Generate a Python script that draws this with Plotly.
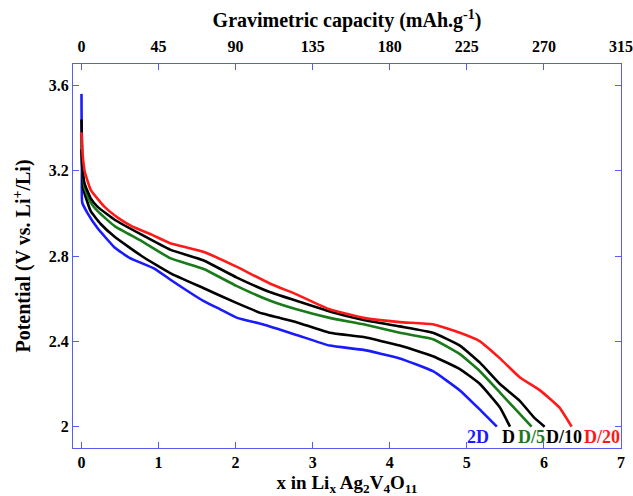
import plotly.graph_objects as go

# x in LixAg2V4O11 and potential (V) for each discharge rate
x_2D = [0, 0.005, 0.01, 0.08, 0.21, 0.43, 0.63, 0.95, 1.15, 1.58, 1.80, 2.02, 2.35, 2.79, 3.22, 3.66, 4.13, 4.56, 4.91, 5.17, 5.39]
y_2D = [3.56, 3.2, 3.05, 3.0, 2.93, 2.84, 2.79, 2.74, 2.69, 2.59, 2.55, 2.51, 2.48, 2.43, 2.38, 2.36, 2.32, 2.26, 2.17, 2.08, 2.0]

x_D = [0, 0.01, 0.02, 0.12, 0.25, 0.43, 0.78, 1.15, 1.58, 2.01, 2.35, 2.79, 3.22, 3.66, 4.13, 4.56, 4.91, 5.17, 5.43, 5.56]
y_D = [3.44, 3.25, 3.12, 3.01, 2.95, 2.89, 2.80, 2.72, 2.65, 2.58, 2.53, 2.49, 2.44, 2.42, 2.38, 2.33, 2.27, 2.20, 2.09, 2.0]

x_D5 = [0, 0.01, 0.04, 0.12, 0.21, 0.43, 0.78, 1.15, 1.58, 2.01, 2.45, 2.79, 3.22, 3.66, 4.13, 4.56, 4.91, 5.17, 5.43, 5.66, 5.84]
y_D5 = [3.34, 3.22, 3.12, 3.05, 3.01, 2.94, 2.87, 2.79, 2.74, 2.66, 2.59, 2.55, 2.51, 2.48, 2.44, 2.41, 2.34, 2.26, 2.16, 2.07, 2.0]

x_D10 = [0, 0.01, 0.04, 0.12, 0.21, 0.43, 0.78, 1.15, 1.58, 2.01, 2.45, 2.79, 3.22, 3.66, 4.13, 4.56, 4.91, 5.17, 5.43, 5.69, 5.88, 6.01]
y_D10 = [3.30, 3.22, 3.14, 3.07, 3.03, 2.97, 2.90, 2.83, 2.78, 2.70, 2.63, 2.59, 2.54, 2.50, 2.47, 2.44, 2.38, 2.30, 2.20, 2.12, 2.04, 2.0]

x_D20 = [0, 0.01, 0.04, 0.12, 0.3, 0.47, 0.65, 0.91, 1.15, 1.58, 2.01, 2.45, 2.79, 3.22, 3.66, 4.13, 4.56, 4.91, 5.17, 5.43, 5.69, 5.95, 6.20, 6.36]
y_D20 = [3.38, 3.30, 3.20, 3.11, 3.03, 2.98, 2.94, 2.90, 2.86, 2.82, 2.75, 2.67, 2.62, 2.55, 2.51, 2.49, 2.48, 2.44, 2.40, 2.32, 2.23, 2.17, 2.09, 2.0]

series = [
    ("2D", x_2D, y_2D, "#1a1aff"),
    ("D", x_D, y_D, "#000000"),
    ("D/5", x_D5, y_D5, "#1a7a1a"),
    ("D/10", x_D10, y_D10, "#000000"),
    ("D/20", x_D20, y_D20, "#ff1a1a"),
]
label_x = [5.14, 5.54, 5.84, 6.26, 6.76]

x_ticks = [0, 1, 2, 3, 4, 5, 6, 7]
cap_ticks = [0, 45, 90, 135, 180, 225, 270, 315]
y_ticks = [2, 2.4, 2.8, 3.2, 3.6]
y_ticktext = ["2", "2.4", "2.8", "3.2", "3.6"]

FRAME = "#5a5af5"
FONT = "Liberation Serif"

fig = go.Figure()
for name, xs, ys, col in series:
    fig.add_trace(go.Scatter(x=xs, y=ys, mode="lines", name=name,
                             line=dict(color=col, width=2.6, shape="spline", smoothing=0.4)))

# invisible trace for the top (capacity) axis
fig.add_trace(go.Scatter(x=[0, 315], y=[2, 2], xaxis="x2", mode="markers",
                         marker=dict(opacity=0), hoverinfo="skip", showlegend=False))

for (name, xs, ys, col), lx in zip(series, label_x):
    fig.add_annotation(x=lx, y=1.95, text="<b>%s</b>" % name, showarrow=False,
                       font=dict(family=FONT, size=18, color=col))

fig.update_layout(
    width=633, height=496,
    margin=dict(l=73, r=12, t=64, b=48, autoexpand=False),
    plot_bgcolor="white", paper_bgcolor="white",
    showlegend=False,
    font=dict(family=FONT, color="black"),
    xaxis=dict(range=[-0.11, 7.0005], tickvals=x_ticks,
               ticktext=["<b>%d</b>" % v for v in x_ticks],
               tickfont=dict(family=FONT, size=16, color="black"),
               ticks="inside", ticklen=6, tickcolor=FRAME, tickwidth=1,
               ticklabeloverflow="allow", automargin=False,
               showline=True, linecolor=FRAME, linewidth=1.2, mirror=True,
               showgrid=False, zeroline=False,
               title=dict(text="<b>x in Li<sub>x</sub> Ag<sub>2</sub>V<sub>4</sub>O<sub>11</sub></b>",
                          font=dict(family=FONT, size=19, color="black"), standoff=6)),
    xaxis2=dict(range=[-0.11 * 45, 315.02], overlaying="x", side="top",
                tickvals=cap_ticks, ticktext=["<b>%d</b>" % v for v in cap_ticks],
                tickfont=dict(family=FONT, size=16, color="black"),
                ticks="inside", ticklen=6, tickcolor=FRAME, tickwidth=1,
                ticklabelstandoff=8, ticklabeloverflow="allow", automargin=False,
                showgrid=False, zeroline=False,
                title=dict(text="<b>Gravimetric capacity (mAh.g<sup>-1</sup>)</b>",
                           font=dict(family=FONT, size=20, color="black"), standoff=4)),
    yaxis=dict(range=[1.9, 3.7], tickvals=y_ticks,
               ticktext=["<b>%s</b>" % t for t in y_ticktext],
               tickfont=dict(family=FONT, size=16, color="black"),
               ticks="inside", ticklen=6, tickcolor=FRAME, tickwidth=1,
               showline=True, linecolor=FRAME, linewidth=1.2, mirror="ticks",
               showgrid=False, zeroline=False, automargin=False,
               title=dict(text="<b>Potential (V vs. Li<sup>+</sup>/Li)</b>",
                          font=dict(family=FONT, size=20, color="black"), standoff=12)),
)

fig.write_html("out.html")
